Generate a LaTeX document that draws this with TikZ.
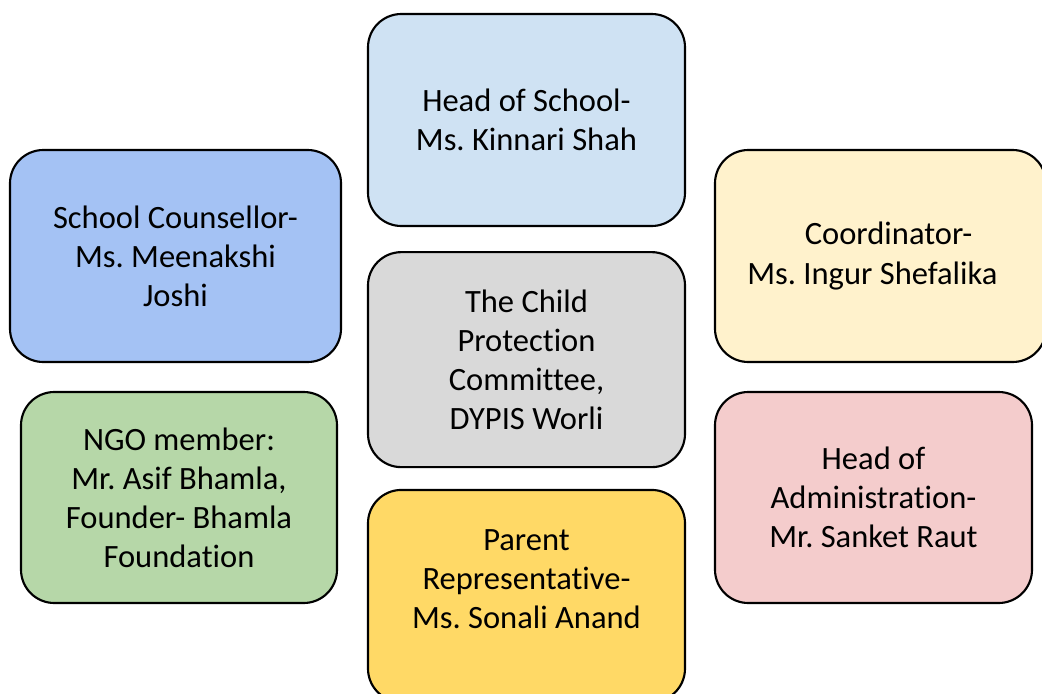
\documentclass[tikz,border=0pt]{standalone}
\usepackage{fontspec}
\setmainfont{Carlito}[Ligatures=NoCommon]
\usetikzlibrary{positioning}
\frenchspacing

\definecolor{headblue}{HTML}{CFE2F3}
\definecolor{counselblue}{HTML}{A4C2F4}
\definecolor{coordyellow}{HTML}{FFF2CC}
\definecolor{cpcgray}{HTML}{D9D9D9}
\definecolor{ngogreen}{HTML}{B6D7A8}
\definecolor{adminpink}{HTML}{F4CCCC}
\definecolor{parentyellow}{HTML}{FFD966}

\tikzset{
  member/.style={draw=black, line width=1.6pt, rounded corners=25pt,
    align=center, inner sep=0pt, font=\fontsize{24.4pt}{29.3pt}\selectfont},
  txt/.style={align=center, inner sep=0pt, font=\fontsize{24.4pt}{29.3pt}\selectfont}
}

\begin{document}
\begin{tikzpicture}[x=0.75pt,y=-0.75pt]
          \useasboundingbox (0,0) rectangle (1042,693);
          \clip (0,0) rectangle (1042,693);

          % middle column
          \node[member, fill=headblue, minimum width=237.75pt, minimum height=159pt] (hos) at (526.5,120) {Head of School-\\Ms. Kinnari Shah};
          \node[member, fill=cpcgray, minimum width=237.75pt, minimum height=161.25pt, below=18pt of hos] (cpc) {The Child\\Protection\\Committee,\\DYPIS Worli};
          \node[member, fill=parentyellow, minimum width=237.75pt, minimum height=159pt, below=15.5pt of cpc] (parent) {};
          \node[txt] (parenttxt) at ([yshift=-67.5pt]parent.north) {Parent\\Representative-\\Ms. Sonali Anand};

          % left column
          \node[member, fill=counselblue, minimum width=248.25pt, minimum height=159pt] (counsel) at (175.5,256) {School Counsellor-\\Ms. Meenakshi\\Joshi};
          \node[member, fill=ngogreen, minimum width=237pt, minimum height=158.25pt] (ngo) at (179,497.5) {NGO member:\\Mr. Asif Bhamla,\\Founder- Bhamla\\Foundation};

          % right column
          \node[member, fill=coordyellow, minimum width=248.25pt, minimum height=159pt] (coord) at (880.5,256) {\hspace*{0.5em}Coordinator-\\Ms. Ingur Shefalika\hspace*{0.5em}};
          \node[member, fill=adminpink, minimum width=237.75pt, minimum height=158.25pt] (admin) at (873.5,497.5) {Head of\\Administration-\\Mr. Sanket Raut};
        \end{tikzpicture}
\end{document}
